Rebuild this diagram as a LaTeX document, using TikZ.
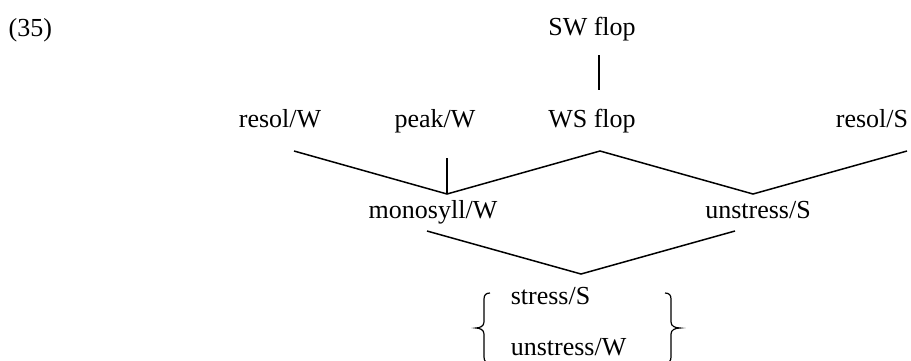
\documentclass[tikz,border=0pt]{standalone}
\usepackage{fontspec}
\setmainfont{Liberation Serif}
\usepackage{tikz}

\begin{document}
\begin{tikzpicture}[x = 1pt, y = -1pt, line width = 1.5pt,
        lbl/.style = {inner sep = 0pt, anchor = base, font = \fontsize{26}{30}\selectfont}]
        \useasboundingbox (0,0) rectangle (911,360);
        \node[lbl, anchor = base west] (num) at (8,36) {(35)};
        \node[lbl] (swflop) at (592,35) {SW flop};
        \node[lbl] (wsflop) at (592,127) {WS flop};
        \node[lbl] (resolw) at (280,127) {resol/W};
        \node[lbl] (peakw) at (435,127) {peak/W};
        \node[lbl] (resols) at (872,127) {resol/S};
        \node[lbl] (monow) at (433,218) {monosyll/W};
        \node[lbl] (unstrs) at (758,218) {unstress/S};
        \node[lbl, anchor = base west] (strs) at (510,304) {stress/S};
        \node[lbl, anchor = base west] (unstrw) at (510,355) {unstress/W};
        \coordinate (swb) at (599,55);
        \coordinate (wst) at (599,90);
        \coordinate (rw) at (294,151);
        \coordinate (pw) at (447,158);
        \coordinate (ws) at (600,151);
        \coordinate (rs) at (907,151);
        \coordinate (mj) at (447,194);
        \coordinate (uj) at (753,194);
        \coordinate (mw) at (427,231);
        \coordinate (us) at (735,231);
        \coordinate (sj) at (581,274);
        \draw (swb) -- (wst);
        \draw (rw) -- (mj) -- (ws) -- (uj) -- (rs);
        \draw (pw) -- (mj);
        \draw (mw) -- (sj) -- (us);
        \draw[line width = 1.2pt] (490,293) .. controls (486,293) and (484,295) .. (484,299) -- (484,322)
            .. controls (484,326) and (480,328) .. (476,328) .. controls (480,328) and (484,330) .. (484,334)
            -- (484,357) .. controls (484,361) and (486,363) .. (490,363);
        \draw[line width = 1.2pt] (665,293) .. controls (669,293) and (671,295) .. (671,299) -- (671,322)
            .. controls (671,326) and (675,328) .. (680,328) .. controls (675,328) and (671,330) .. (671,334)
            -- (671,357) .. controls (671,361) and (669,363) .. (665,363);
    \end{tikzpicture}
\end{document}
